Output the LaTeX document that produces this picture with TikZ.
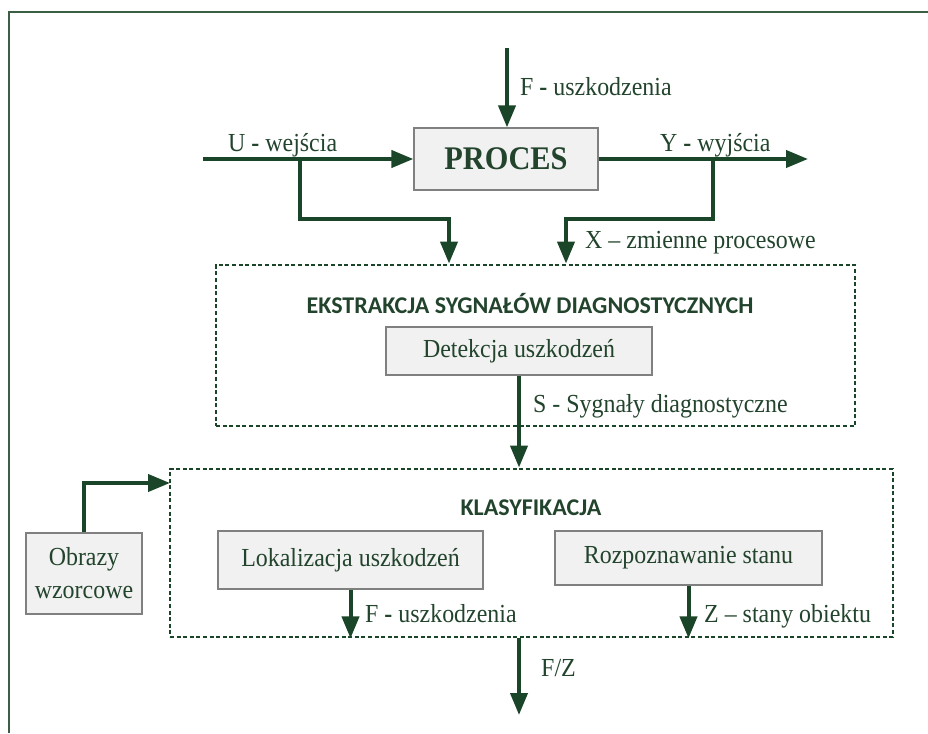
\documentclass[tikz,border=0pt]{standalone}
\usepackage{fontspec}
\setmainfont{Liberation Serif}[FakeStretch=0.92]
\newfontfamily\headfont{Carlito}
\usetikzlibrary{arrows.meta}
\definecolor{txtgreen}{HTML}{22432C}
\definecolor{arrgreen}{HTML}{1B4528}
\definecolor{framegreen}{HTML}{3C5E45}
\definecolor{boxfill}{HTML}{F1F1F1}
\definecolor{boxline}{HTML}{808080}
\tikzset{
  lbl/.style={text=txtgreen, font=\fontsize{26}{28}\selectfont, inner sep=0pt, anchor=base west},
  stepbox/.style={draw=boxline, line width=1.2pt, fill=boxfill, text=txtgreen,
    font=\fontsize{26}{33}\selectfont, align=center, inner sep=0pt},
  groupbox/.style={draw=arrgreen, line width=2.8pt, dash pattern=on 4pt off 2.6pt, inner sep=0pt},
  heading/.style={text=txtgreen, font=\headfont\bfseries\fontsize{24}{28}\selectfont, inner sep=0pt, anchor=base},
  arr/.style={draw=arrgreen, line width=4pt, -{Triangle[length=22pt,width=17pt]}},
  frame/.style={draw=framegreen, line width=2.5pt}
}
\newcommand{\bh}{{\bfseries -}}
\begin{document}
\begin{tikzpicture}[x=1pt,y=-1pt]
\useasboundingbox (0,0) rectangle (928,733);
% outer frame (top and left edges only)
\draw[frame] (9,733) -- (9,12) -- (928,12);

% boxes
\node[stepbox, minimum width=184pt, minimum height=62pt, font=\bfseries\fontsize{33}{36}\selectfont] (proc) at (506,159) {PROCES};
\node[groupbox, minimum width=639pt, minimum height=161pt] (ext) at (535.5,345.5) {};
\node[stepbox, minimum width=266pt, minimum height=48pt] (det) at (519,351) {Detekcja uszkodzeń};
\node[groupbox, minimum width=723pt, minimum height=168pt] (kla) at (531.5,553) {};
\node[stepbox, minimum width=265pt, minimum height=58pt] (lok) at (350.5,560) {Lokalizacja uszkodzeń};
\node[stepbox, minimum width=267pt, minimum height=54pt] (roz) at (688.5,558) {Rozpoznawanie stanu};
\node[stepbox, minimum width=116pt, minimum height=81pt] (obr) at (84,573.5) {Obrazy\\wzorcowe};

% group headings
\node[heading] (exth) at (530,313) {EKSTRAKCJA SYGNAŁÓW DIAGNOSTYCZNYCH};
\node[heading] (klah) at (531,515) {KLASYFIKACJA};

% free ends of connectors
\coordinate (ftop) at (507,48);
\coordinate (uin) at (203,159);
\coordinate (usplit) at (300,159);
\coordinate (ubend) at (449,219);
\coordinate (yout) at (808,159);
\coordinate (ysplit) at (713,159);
\coordinate (xbend) at (566,219);
\coordinate (obrin) at (170,483);
\coordinate (fzend) at (519,715);

% connectors
\draw[arr] (ftop) -- (ftop |- proc.north);
\draw[arr] (uin) -- (proc.west);
\draw[arr] (usplit) |- (ubend) -- (ubend |- ext.north);
\draw[arr] (proc.east) -- (yout);
\draw[arr] (ysplit) |- (xbend) -- (xbend |- ext.north);
\draw[arr] (det.south) -- (det.south |- kla.north);
\draw[arr] (obr.north) |- (obrin);
\draw[arr] (lok.south) -- (lok.south |- kla.south);
\draw[arr] (roz.south) -- (roz.south |- kla.south);
\draw[arr] (det.south |- kla.south) -- (fzend);

% connector labels
\node[lbl] (lf) at (520,96) {F \bh{} uszkodzenia};
\node[lbl] (lu) at (228,151) {U \bh{} wejścia};
\node[lbl] (ly) at (660,151) {Y \bh{} wyjścia};
\node[lbl] (lx) at (585,248) {X – zmienne procesowe};
\node[lbl] (ls) at (533,412) {S - Sygnały diagnostyczne};
\node[lbl] (lf2) at (365,622) {F \bh{} uszkodzenia};
\node[lbl] (lz) at (704,622) {Z – stany obiektu};
\node[lbl] (lfz) at (541,676) {F/Z};
\end{tikzpicture}
\end{document}
